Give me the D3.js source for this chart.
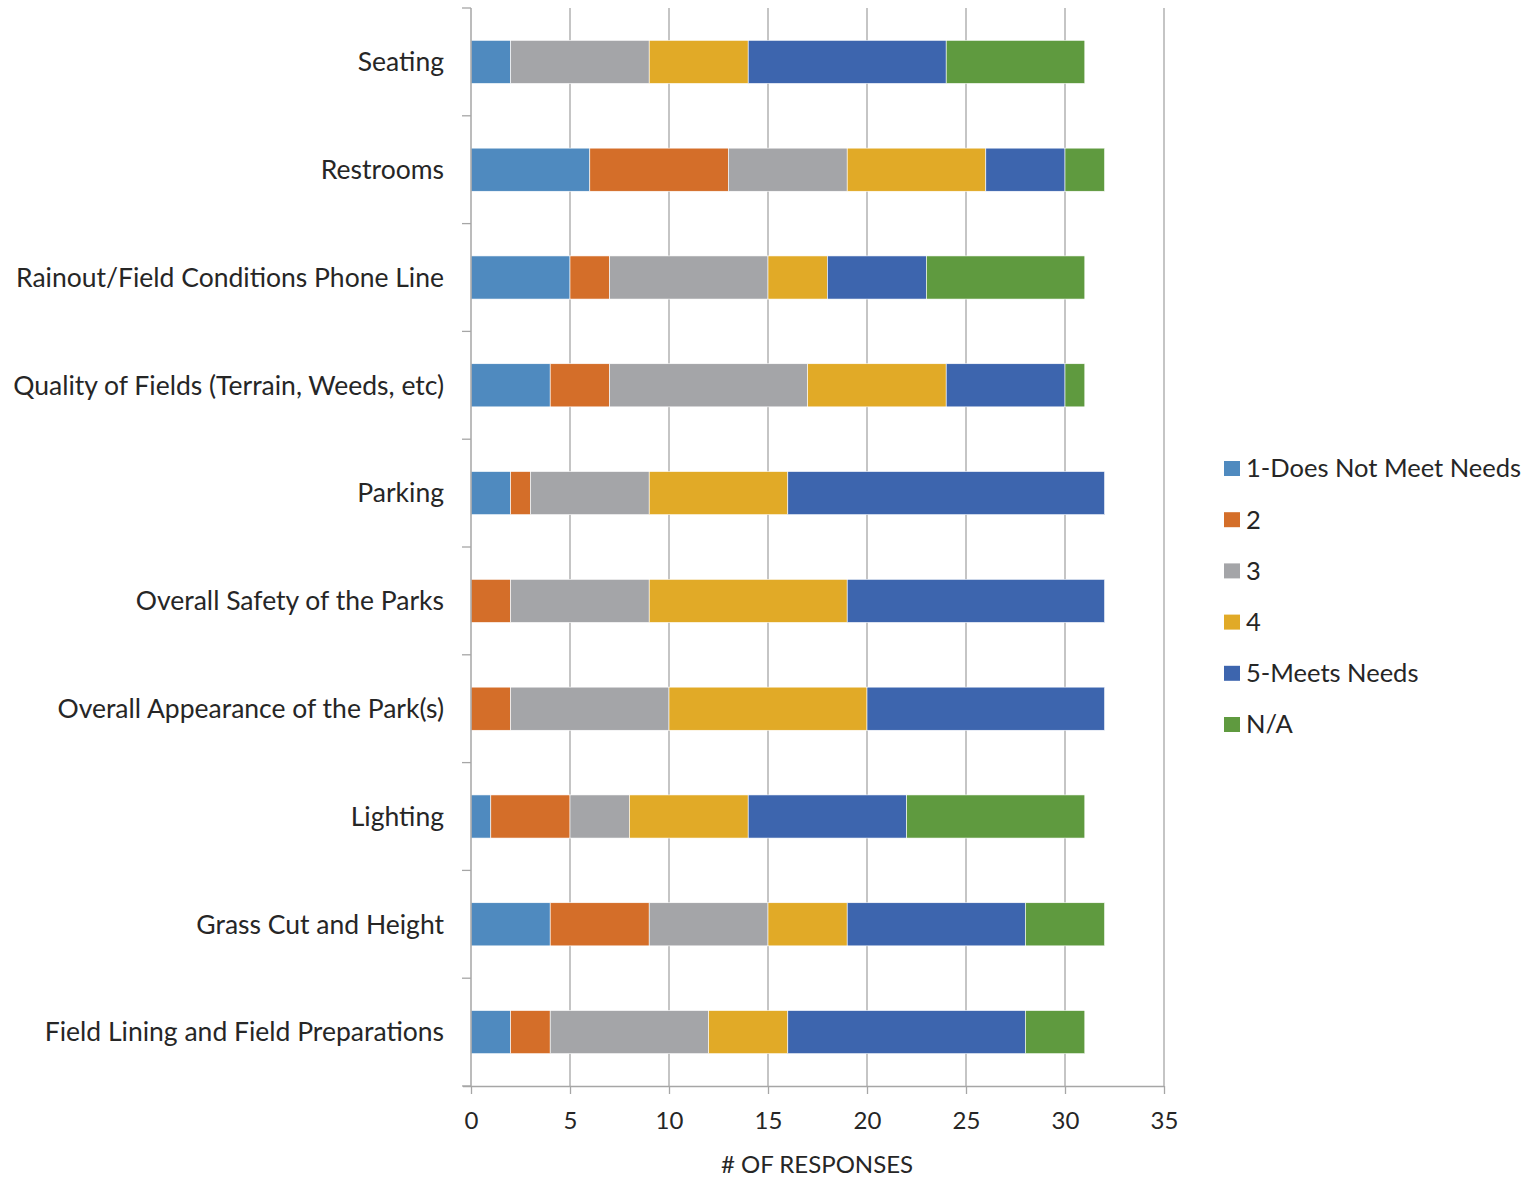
<!DOCTYPE html>
<html><head><meta charset="utf-8">
<script src="https://cdn.jsdelivr.net/npm/d3@7"></script>
<style>body{margin:0;background:#fff}svg{display:block}text{font-family:Lato,"Open Sans",sans-serif;fill:#262626}</style>
</head><body><svg id="c" width="1534" height="1179"></svg>
<script>
const categories = ["Seating","Restrooms","Rainout/Field Conditions Phone Line","Quality of Fields (Terrain, Weeds, etc)","Parking","Overall Safety of the Parks","Overall Appearance of the Park(s)","Lighting","Grass Cut and Height","Field Lining and Field Preparations"];
const seriesNames = ["1-Does Not Meet Needs","2","3","4","5-Meets Needs","N/A"];
const s1 = [2,6,5,4,2,0,0,1,4,2];
const s2 = [0,7,2,3,1,2,2,4,5,2];
const s3 = [7,6,8,10,6,7,8,3,6,8];
const s4 = [5,7,3,7,7,10,10,6,4,4];
const s5 = [10,4,5,6,16,13,12,8,9,12];
const sNA = [7,2,8,1,0,0,0,9,4,3];
const xTicks = [0,5,10,15,20,25,30,35];
const colors = ["#4f8abf","#d46e29","#a4a5a8","#e1aa27","#3d65ae","#5f9a3f"];

const seriesVals = [s1,s2,s3,s4,s5,sNA];
const rows = categories.map((c,i)=>{const o={cat:c}; seriesNames.forEach((n,j)=>o[n]=seriesVals[j][i]); return o;});
const stack = d3.stack().keys(seriesNames)(rows);

const svg = d3.select("#c");
const x = d3.scaleLinear().domain([0,35]).range([471,1164]);
const y = d3.scaleBand().domain(categories).range([8,1086]).paddingInner(0.6).paddingOuter(0.3);
const yb = d3.scaleBand().domain(categories).range([8,1086]);
const gridC = "#a6a6a6";

// gridlines
svg.append("g").selectAll("line").data(xTicks.slice(1)).join("line")
  .attr("x1",d=>x(d)).attr("x2",d=>x(d)).attr("y1",8).attr("y2",1086)
  .attr("stroke",gridC).attr("stroke-width",1.3);

// bars
svg.append("g").selectAll("g").data(stack).join("g")
  .attr("fill",(d,i)=>colors[i])
  .selectAll("rect").data(d=>d.filter(p=>p[1]>p[0])).join("rect")
  .attr("x",d=>x(d[0])).attr("width",d=>x(d[1])-x(d[0]))
  .attr("y",d=>y(d.data.cat)).attr("height",y.bandwidth())
  .attr("stroke","#fff").attr("stroke-width",0.6);

// x axis
const xa = svg.append("g").attr("transform","translate(0,1086)")
  .call(d3.axisBottom(x).tickValues(xTicks).tickSize(8).tickPadding(18));
xa.select(".domain").attr("stroke",gridC).attr("stroke-width",1.5).attr("d","M463,0.5H1164");
xa.selectAll(".tick line").attr("stroke",gridC).attr("stroke-width",1.3);
xa.selectAll(".tick text").attr("font-size",24).style("font-family","Lato,'Open Sans',sans-serif").attr("fill","#262626");

// y axis
const ya = svg.append("g").attr("transform","translate(471,0)");
ya.append("line").attr("x1",0).attr("x2",0).attr("y1",8).attr("y2",1086).attr("stroke",gridC).attr("stroke-width",1.5);
const bounds = categories.map(c=>yb(c)).concat([1086]);
ya.selectAll("line.t").data(bounds).join("line").attr("class","t")
  .attr("x1",-9).attr("x2",0).attr("y1",d=>d).attr("y2",d=>d).attr("stroke",gridC).attr("stroke-width",1.3);
ya.selectAll("text").data(categories).join("text")
  .attr("x",-27).attr("y",d=>y(d)+y.bandwidth()/2).attr("dy","0.35em")
  .attr("text-anchor","end").attr("font-size",26.5).text(d=>d);

// x title
svg.append("text").attr("x",817).attr("y",1173).attr("text-anchor","middle").attr("font-size",24).text("# OF RESPONSES");

// legend
const lg = svg.append("g").selectAll("g").data(seriesNames).join("g")
  .attr("transform",(d,i)=>`translate(1224,${461+i*51.2})`);
lg.append("rect").attr("width",16).attr("height",15).attr("fill",(d,i)=>colors[i]);
lg.append("text").attr("x",22).attr("y",7.5).attr("dy","0.35em").attr("font-size",25.5).text(d=>d);
</script></body></html>
